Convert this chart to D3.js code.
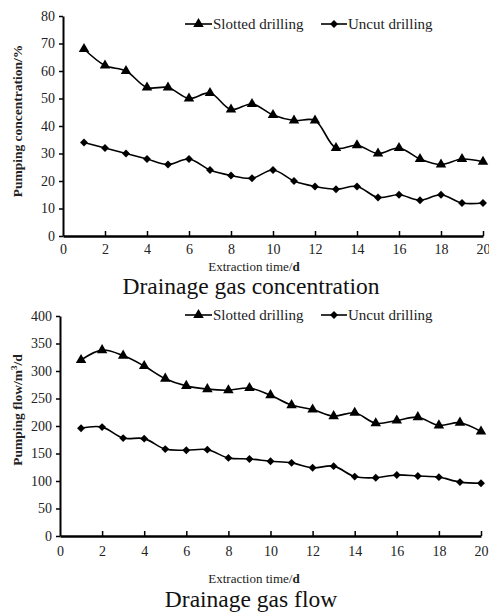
<!DOCTYPE html>
<html><head><meta charset="utf-8">
<script src="https://cdn.jsdelivr.net/npm/d3@7"></script>
<style>body{margin:0;background:#fff}svg{display:block;font-family:"Liberation Serif","Times New Roman",serif}</style>
</head><body><svg id="c" width="489" height="615"></svg>
<script>
const days = d3.range(1, 21);
const concSlotted = [68,62,60,54,54,50,52,46,48,44,42,42,32,33,30,32,28,26,28,27];
const concUncut   = [34,32,30,28,26,28,24,22,21,24,20,18,17,18,14,15,13,15,12,12];
const flowSlotted = [320,338,328,309,286,273,267,265,269,256,238,230,218,224,205,210,216,201,206,190];
const flowUncut   = [196,198,178,177,158,156,157,142,140,136,133,124,127,108,106,111,109,107,98,96];
const xTicks = [0,2,4,6,8,10,12,14,16,18,20];
const concTicks = [0,10,20,30,40,50,60,70,80];
const flowTicks = [0,50,100,150,200,250,300,350,400];
const seriesNames = ["Slotted drilling","Uncut drilling"];

const svg = d3.select("#c");

function panel(cfg){
  const g = svg.append("g");
  const x = d3.scaleLinear().domain([0,20]).range([cfg.x0, cfg.x1]);
  const y = d3.scaleLinear().domain([0,cfg.ymax]).range([cfg.y0, cfg.y1]);
  const ya = g.append("g").attr("transform",`translate(${cfg.x0},0)`)
    .call(d3.axisLeft(y).tickValues(cfg.yTicks).tickSize(4).tickPadding(4).tickSizeOuter(0));
  ya.select(".domain").attr("stroke","#000").attr("stroke-width",2);
  ya.selectAll(".tick line").attr("stroke-width",1.5);
  ya.selectAll("text").attr("font-family","Liberation Serif").attr("font-size",14).attr("fill","#222");
  const xa = g.append("g").attr("transform",`translate(0,${cfg.y0})`)
    .call(d3.axisBottom(x).tickValues(xTicks).tickSize(0).tickPadding(cfg.xPad).tickSizeOuter(0));
  xa.select(".domain").attr("stroke","#000").attr("stroke-width",2.5);
  xa.selectAll("text").attr("font-family","Liberation Serif").attr("font-size",14).attr("fill","#222");
  xa.selectAll(".tick").filter(d=>d>0).append("line").attr("y1",0).attr("y2",-5).attr("stroke","#000").attr("stroke-width",1.5);

  const line = d3.line().x((d,i)=>x(days[i])).y(d=>y(d)).curve(d3.curveCatmullRom.alpha(0.5));
  const tri = d3.symbol().type(d3.symbolTriangle).size(48);
  const dia = d3.symbol().type(d3.symbolDiamond2 || d3.symbolDiamond).size(40);
  [[cfg.a, tri],[cfg.b, dia]].forEach(([vals, sym])=>{
    g.append("path").attr("d", line(vals)).attr("fill","none").attr("stroke","#000").attr("stroke-width",1.6);
    g.selectAll(null).data(vals).enter().append("path")
      .attr("d", sym).attr("transform",(d,i)=>`translate(${x(days[i])},${y(d)})`).attr("fill","#000");
  });
  const ly = cfg.legY;
  const leg = [[185,212,198.5,tri,213],[321,347,334,dia,348]];
  leg.forEach((l,i)=>{
    g.append("line").attr("x1",l[0]).attr("x2",l[1]).attr("y1",ly).attr("y2",ly).attr("stroke","#000").attr("stroke-width",1.6);
    g.append("path").attr("d", l[3]).attr("transform",`translate(${l[2]},${ly})`).attr("fill","#000");
    g.append("text").attr("x",l[4]).attr("y",ly+5).attr("font-size",15).attr("fill","#222").text(seriesNames[i]);
  });
  const yl = g.append("text").attr("transform",`translate(${cfg.ylX},${cfg.ylY}) rotate(-90)`)
    .attr("text-anchor","middle").attr("font-weight","bold").attr("font-size",13.5).attr("fill","#222");
  cfg.ylabel(yl);
  const xl = g.append("text").attr("x",254).attr("y",cfg.xlY).attr("text-anchor","middle").attr("font-size",13).attr("fill","#222");
  xl.append("tspan").text("Extraction time/");
  xl.append("tspan").attr("font-weight","bold").text("d");
  g.append("text").attr("x",251).attr("y",cfg.tY).attr("text-anchor","middle").attr("font-size",23.5).attr("fill","#111").text(cfg.title);
}

panel({x0:63,x1:483,y0:236,y1:16,ymax:80,yTicks:concTicks,a:concSlotted,b:concUncut,legY:24,xPad:8,
  ylX:22,ylY:121,ylabel:t=>t.text("Pumping concentration/%"),xlY:271,tY:294,title:"Drainage gas concentration"});
panel({x0:60,x1:481,y0:536,y1:316,ymax:400,yTicks:flowTicks,a:flowSlotted,b:flowUncut,legY:315,xPad:10,
  ylX:22,ylY:410,ylabel:t=>{t.append("tspan").text("Pumping flow/m");t.append("tspan").attr("baseline-shift","super").attr("font-size",9).text("3");t.append("tspan").text("/d");},
  xlY:583,tY:607,title:"Drainage gas flow"});
</script></body></html>
